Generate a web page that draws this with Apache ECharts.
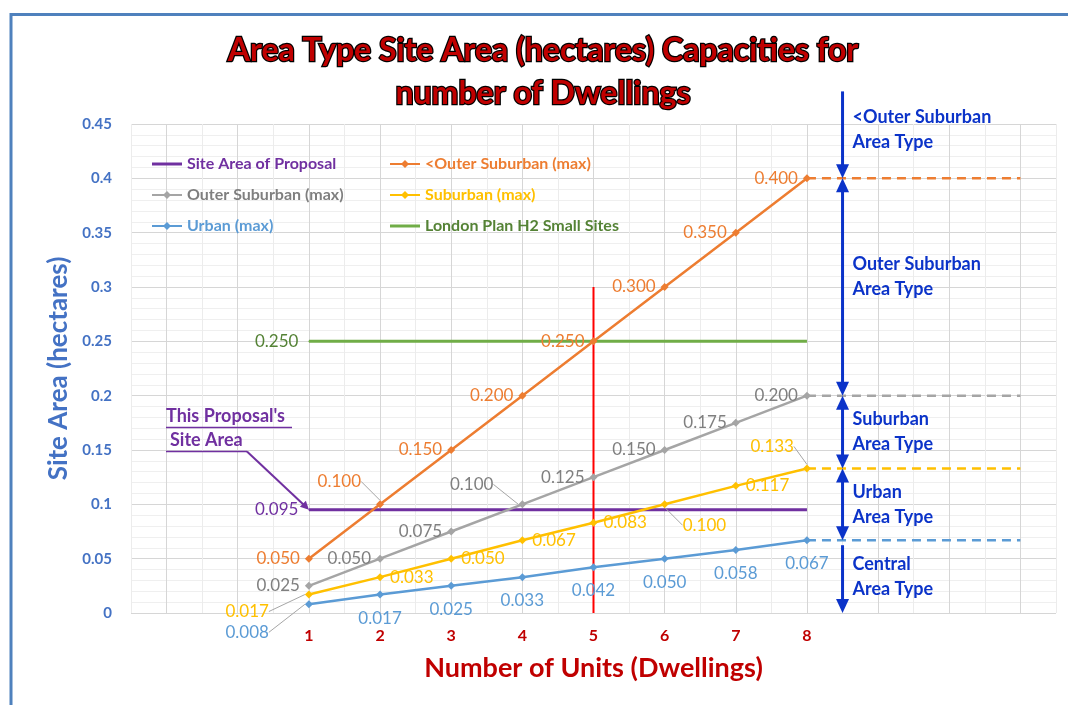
<!DOCTYPE html>
<html>
<head>
<meta charset="utf-8">
<title>Area Type Site Area Capacities</title>
<script src="https://cdn.jsdelivr.net/npm/echarts@6/dist/echarts.min.js"></script>
<style>
html, body { margin: 0; padding: 0; background: #fff; }
#chart { width: 1068px; height: 705px; }
</style>
</head>
<body>
<div id="chart"></div>
<script>
// data
var units = [1, 2, 3, 4, 5, 6, 7, 8];
var siteAreaOfProposal = [0.095, 0.095, 0.095, 0.095, 0.095, 0.095, 0.095, 0.095];
var lessOuterSuburban = [0.050, 0.100, 0.150, 0.200, 0.250, 0.300, 0.350, 0.400];
var outerSuburban = [0.025, 0.050, 0.075, 0.100, 0.125, 0.150, 0.175, 0.200];
var suburban = [0.017, 0.033, 0.050, 0.067, 0.083, 0.100, 0.117, 0.133];
var urban = [0.008, 0.017, 0.025, 0.033, 0.042, 0.050, 0.058, 0.067];
var londonPlanH2 = [0.250, 0.250, 0.250, 0.250, 0.250, 0.250, 0.250, 0.250];
var proposalUnits = 5;
var proposalLineTop = 0.3;
var extendTo = 11;
var areaTypes = ['<Outer Suburban\nArea Type', 'Outer Suburban\nArea Type', 'Suburban\nArea Type', 'Urban\nArea Type', 'Central\nArea Type'];

var FONT = 'Lato';
var PURPLE = '#7030a0', ORANGE = '#ed7d31', GRAY = '#a5a5a5', GRAY_TXT = '#7f7f7f',
    YELLOW = '#ffc000', BLUE = '#5b9bd5', GREEN = '#70ad47', GREEN_TXT = '#548235',
    ARROW = '#0b33c9', RED = '#c00000';
var LINE_ICON = 'path://M0,0L30,0L30,3L0,3Z';

var chart = echarts.init(document.getElementById('chart'));

function seriesData(values, items) {
	return units.map(function (u, i) {
		var d = {value: [u, values[i]]};
		if (items && items[i]) {
			for (var k in items[i]) d[k] = items[i][k];
		}
		return d;
	});
}
function fmt(p) {
	return p.value[1].toFixed(3);
}
function offsets(map) {
	return function (p) {
		var o = map[p.dataIndex];
		return o ? {dx: o[0], dy: o[1]} : {};
	};
}
var leader = {labelLine: {show: true}};
var leaderStyle = {show: false, lineStyle: {color: '#a6a6a6', width: 1}};

function markLineSeries(name, values, color, txtColor, pos, dist, items, moves) {
	return {
		name: name,
		type: 'line',
		data: seriesData(values, items),
		symbol: 'diamond',
		symbolSize: 8,
		lineStyle: {width: 2.5, color: color},
		itemStyle: {color: color},
		label: {show: true, position: pos, distance: dist, color: txtColor, fontSize: 17, fontFamily: FONT, formatter: fmt},
		labelLine: leaderStyle,
		labelLayout: offsets(moves || {})
	};
}
function flatSeries(name, values, color, txtColor) {
	return {
		name: name,
		type: 'line',
		data: seriesData(values, {0: {symbol: 'circle', symbolSize: 1, label: {show: true}}}),
		symbol: 'none',
		lineStyle: {width: 3, color: color},
		itemStyle: {color: color},
		label: {show: false, position: 'left', distance: 10, color: txtColor, fontSize: 17, fontFamily: FONT, formatter: fmt}
	};
}
function dashedSeries(values, color) {
	var last = values[values.length - 1];
	return {
		type: 'line',
		data: [[units[units.length - 1], last], [extendTo, last]],
		symbol: 'none',
		silent: true,
		lineStyle: {width: 2.5, color: color, type: [9, 6]}
	};
}

var series = [
	flatSeries('London Plan H2 Small Sites', londonPlanH2, GREEN, GREEN_TXT),
	flatSeries('Site Area of Proposal', siteAreaOfProposal, PURPLE, PURPLE),
	{
		type: 'line',
		data: [[proposalUnits, 0], [proposalUnits, proposalLineTop]],
		symbol: 'none',
		silent: true,
		lineStyle: {width: 2, color: '#ff0000'}
	},
	markLineSeries('<Outer Suburban (max)', lessOuterSuburban, ORANGE, ORANGE, 'left', 5,
		{1: leader}, {1: [-10, -23]}),
	markLineSeries('Outer Suburban (max)', outerSuburban, GRAY, GRAY_TXT, 'left', 5,
		{3: leader}, {3: [-20, -20]}),
	markLineSeries('Suburban (max)', suburban, YELLOW, YELLOW, 'right', 6,
		{0: {labelLine: {show: true}, label: {position: 'left'}}, 5: leader, 7: {labelLine: {show: true}, label: {position: 'left'}}},
		{0: [-30, 17], 5: [8, 21], 7: [-3, -22]}),
	markLineSeries('Urban (max)', urban, BLUE, BLUE, 'bottom', 11,
		{0: {labelLine: {show: true}, label: {position: 'left'}}},
		{0: [-25, 28]}),
	dashedSeries(lessOuterSuburban, ORANGE),
	dashedSeries(outerSuburban, GRAY),
	dashedSeries(suburban, YELLOW),
	dashedSeries(urban, BLUE)
];

var legendText = {fontSize: 16, fontFamily: FONT, fontWeight: 'bold'};
var option = {
	animation: false,
	backgroundColor: '#fff',
	grid: {left: 131, right: 12, top: 124, bottom: 92},
	legend: [
		{
			orient: 'vertical', left: 146, top: 151, itemGap: 15, itemWidth: 30, itemHeight: 10,
			textStyle: legendText,
			data: [
				{name: 'Site Area of Proposal', icon: LINE_ICON, textStyle: {color: PURPLE}},
				{name: 'Outer Suburban (max)', textStyle: {color: GRAY_TXT}},
				{name: 'Urban (max)', textStyle: {color: BLUE}}
			]
		},
		{
			orient: 'vertical', left: 384, top: 151, itemGap: 15, itemWidth: 30, itemHeight: 10,
			textStyle: legendText,
			data: [
				{name: '<Outer Suburban (max)', textStyle: {color: ORANGE}},
				{name: 'Suburban (max)', textStyle: {color: YELLOW}},
				{name: 'London Plan H2 Small Sites', icon: LINE_ICON, textStyle: {color: GREEN_TXT}}
			]
		}
	],
	xAxis: {
		type: 'value', min: -1.5, max: 11.5, interval: 0.5,
		axisLine: {show: false}, axisTick: {show: false},
		splitLine: {lineStyle: {color: ['#ececec', '#d6d6d6'], width: 1}},
		axisLabel: {
			margin: 15, color: RED, fontSize: 16, fontWeight: 'bold', fontFamily: FONT,
			formatter: function (v) {
				var r = Math.round(v);
				return (Math.abs(v - r) < 1e-6 && units.indexOf(r) >= 0) ? String(r) : '';
			}
		},
		name: 'Number of Units (Dwellings)', nameLocation: 'middle', nameGap: 42,
		nameTextStyle: {color: RED, fontSize: 27, fontWeight: 'bold', fontFamily: FONT}
	},
	yAxis: {
		type: 'value', min: 0, max: 0.45, interval: 0.05,
		axisLine: {show: false}, axisTick: {show: false},
		splitLine: {lineStyle: {color: '#d6d6d6'}},
		minorTick: {show: false, splitNumber: 5},
		minorSplitLine: {show: true, lineStyle: {color: '#efefef'}},
		axisLabel: {margin: 19, color: '#4472c4', fontSize: 15, fontWeight: 'bold', fontFamily: FONT},
		name: 'Site Area (hectares)', nameLocation: 'middle', nameGap: 56,
		nameTextStyle: {color: '#4472c4', fontSize: 26, fontWeight: 'bold', fontFamily: FONT}
	},
	series: series
};
chart.setOption(option);

// annotations placed through the chart's own scales
function px(x, y) {
	return chart.convertToPixel({xAxisIndex: 0, yAxisIndex: 0}, [x, y]);
}
var g = [];
g.push({type: 'rect', shape: {x: 11, y: 14.5, width: 1100, height: 720}, style: {fill: null, stroke: '#4f81bd', lineWidth: 3}, z: 100});
g.push({
	type: 'text', x: 543, y: 72, z: 100,
	style: {
		text: 'Area Type Site Area (hectares) Capacities for\nnumber of Dwellings',
		font: 'bold 32px ' + FONT, fill: '#c00000', stroke: '#000', lineWidth: 2.5, lineHeight: 43,
		align: 'center', verticalAlign: 'middle', textAlign: 'center', textVerticalAlign: 'middle'
	}
});

// blue area-type arrows
var arrowX = 8.5;
var bounds = [0.48, lessOuterSuburban[7], outerSuburban[7], suburban[7], urban[7], 0];
var ax = px(arrowX, 0)[0];
function head(tipY, dir) {
	return {type: 'polygon', z: 100, shape: {points: [[ax, tipY], [ax - 6.5, tipY - dir * 14], [ax + 6.5, tipY - dir * 14]]}, style: {fill: ARROW}};
}
for (var i = 0; i < bounds.length - 1; i++) {
	var y1 = px(arrowX, bounds[i])[1], y2 = px(arrowX, bounds[i + 1])[1];
	var topHead = i > 0 && i < 4;
	var s1 = topHead ? y1 + 12 : (i === 4 ? y1 + 5 : y1);
	g.push({type: 'line', z: 100, shape: {x1: ax, y1: s1, x2: ax, y2: y2 - 12}, style: {stroke: ARROW, lineWidth: 3}});
	g.push(head(y2, 1));
	if (topHead) g.push(head(y1, -1));
	var mid = (y1 + y2) / 2 + (i === 0 ? -5 : (i === 1 ? -10 : 0));
	g.push({
		type: 'text', x: ax + 10, y: mid, z: 100,
		style: {text: areaTypes[i], font: 'bold 18px ' + FONT, fill: ARROW, lineHeight: 25,
			align: 'left', verticalAlign: 'middle', textAlign: 'left', textVerticalAlign: 'middle'}
	});
}

// "This Proposal's Site Area" call-out
var pp = px(units[0], siteAreaOfProposal[0]);
var calloutFont = 'bold 18px ' + FONT;
g.push({type: 'text', x: 166, y: 416, z: 100, style: {text: "This Proposal's", font: calloutFont, fill: PURPLE, align: 'left', verticalAlign: 'middle', textAlign: 'left', textVerticalAlign: 'middle'}});
g.push({type: 'text', x: 170, y: 440, z: 100, style: {text: 'Site Area', font: calloutFont, fill: PURPLE, align: 'left', verticalAlign: 'middle', textAlign: 'left', textVerticalAlign: 'middle'}});
g.push({type: 'line', z: 100, shape: {x1: 166, y1: 427.5, x2: 292, y2: 427.5}, style: {stroke: PURPLE, lineWidth: 1.5}});
g.push({type: 'line', z: 100, shape: {x1: 166, y1: 451.5, x2: 247, y2: 451.5}, style: {stroke: PURPLE, lineWidth: 1.5}});
g.push({type: 'line', z: 100, shape: {x1: 247, y1: 451.5, x2: pp[0] - 2, y2: pp[1] - 2}, style: {stroke: PURPLE, lineWidth: 2}});
g.push({type: 'polygon', z: 100, shape: {points: [[pp[0], pp[1]], [pp[0] - 9, pp[1] - 3], [pp[0] - 3, pp[1] - 9]]}, style: {fill: PURPLE}});

chart.setOption({graphic: g});
</script>
</body>
</html>
